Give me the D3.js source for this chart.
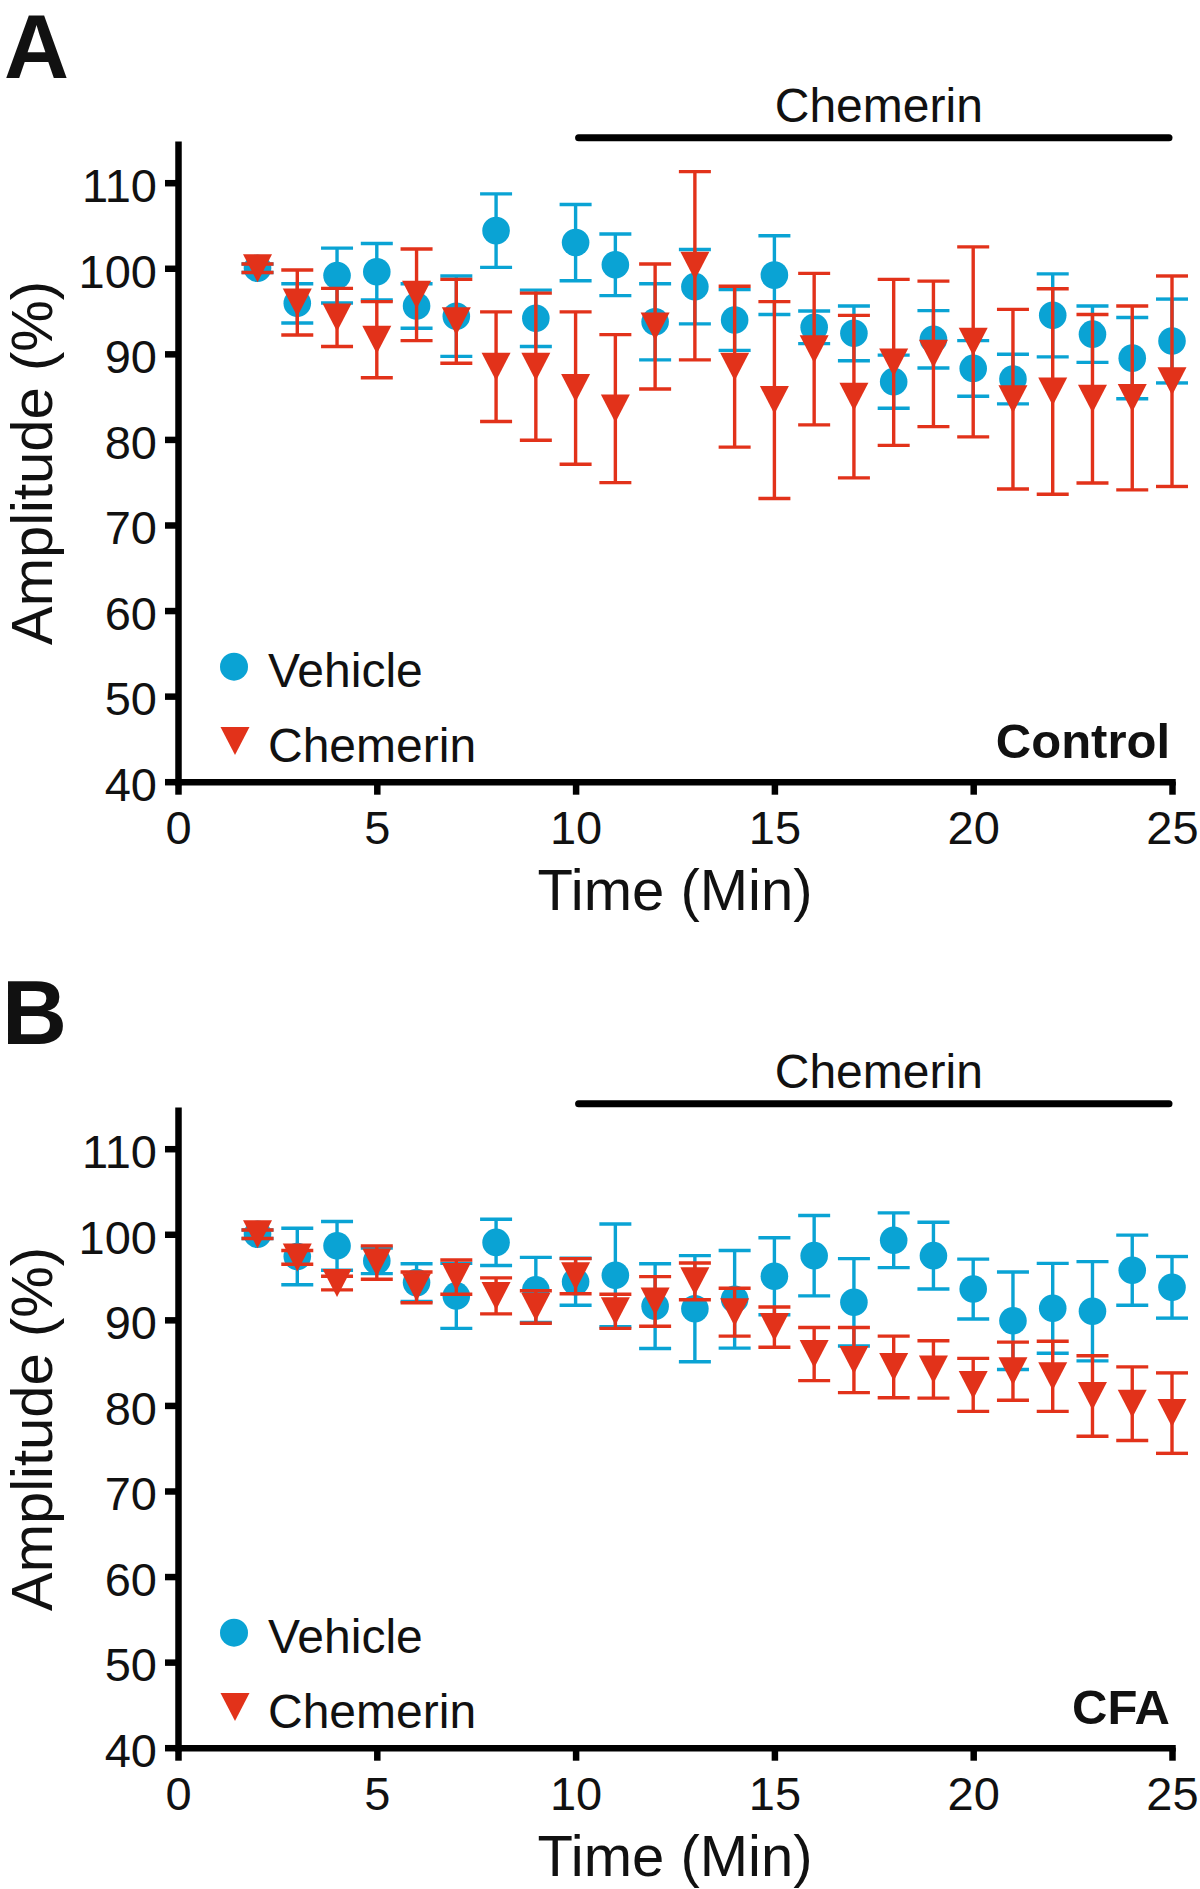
<!DOCTYPE html>
<html><head><meta charset="utf-8">
<script src="https://cdn.jsdelivr.net/npm/d3@7"></script>
<style>
body{margin:0;background:#fff}
svg{display:block}
text{font-family:"Liberation Sans",Arial,Helvetica,sans-serif;fill:#111}
</style>
</head><body>
<svg id="c" width="1200" height="1889"></svg>
<script>
// ---- data ----
const times = [2,3,4,5,6,7,8,9,10,11,12,13,14,15,16,17,18,19,20,21,22,23,24,25];

const vehicleA    = [100.0,95.9,99.15,99.6,95.6,94.4,104.4,94.15,103.0,100.4,93.75,97.85,93.95,99.2,93.1,92.4,86.75,91.7,88.3,87.05,94.5,92.3,89.5,91.5];
const vehicleAErr = [0.5,2.3,3.2,3.3,2.6,4.7,4.3,3.3,4.45,3.6,4.45,4.35,3.55,4.6,1.9,3.2,3.1,3.35,3.25,2.9,4.85,3.3,4.75,4.9];
const chemerinA    = [100.0,96.0,94.25,91.65,96.9,93.8,88.5,88.5,86.0,83.6,93.2,100.3,88.5,84.6,90.55,85.0,89.0,90.0,91.4,84.7,85.6,84.75,84.85,86.8];
const chemerinAErr = [0.5,3.8,3.4,4.45,5.35,4.9,6.4,8.6,8.9,8.65,7.3,11.0,9.4,11.5,8.85,9.5,9.7,8.5,11.1,10.5,12.0,9.85,10.75,12.3];

const vehicleB    = [100.0,97.4,98.65,96.9,94.35,92.8,99.05,93.5,94.45,95.2,91.6,91.3,92.4,95.1,97.5,92.05,99.3,97.5,93.6,89.9,91.35,91.0,95.8,93.8];
const vehicleBErr = [0.5,3.3,2.85,1.5,2.2,3.8,2.7,3.8,2.75,6.0,4.95,6.2,5.7,4.5,4.7,5.1,3.2,3.9,3.5,5.7,5.25,5.8,4.1,3.6];
const chemerinB    = [100.0,97.3,94.3,96.7,93.8,95.0,92.8,91.5,95.1,91.0,92.15,94.5,90.9,89.15,86.0,85.3,84.5,84.2,82.4,84.0,83.4,81.1,80.2,79.1];
const chemerinBErr = [0.5,0.8,0.8,1.95,1.8,2.0,2.1,1.9,2.05,2.0,2.9,2.15,2.8,2.35,3.1,3.8,3.6,3.35,3.1,3.4,4.1,4.7,4.3,4.7];

const yTicks = [40,50,60,70,80,90,100,110];
const xTicks = [0,5,10,15,20,25];
const treatStart = 10, treatEnd = 25;
const seriesNames = ["Vehicle","Chemerin"];

const BLUE = "#0aa3d4", RED = "#e2321a";

const svg = d3.select("#c");

function triPath(cx, cy, w, h){
  return `M${cx-w/2},${cy-h/2}L${cx+w/2},${cy-h/2}L${cx},${cy+h/2}Z`;
}

function panel(top, letter, letterX, tag, veh, vehErr, chem, chemErr){
  const g = svg.append("g").attr("transform", `translate(0,${top})`);
  const x = d3.scaleLinear().domain([0,25]).range([178,1172]);
  const y = d3.scaleLinear().domain([40,114.5]).range([781.7,144.2]);

  // panel letter
  g.append("text").attr("x",letterX).attr("y",78).attr("font-size",90).attr("font-weight","bold").text(letter);

  // treatment bar
  g.append("line").attr("x1",x(treatStart)+3).attr("x2",x(treatEnd)-3)
    .attr("y1",137.7).attr("y2",137.7)
    .attr("stroke","#000").attr("stroke-width",7).attr("stroke-linecap","round");
  g.append("text").attr("x",(x(treatStart)+x(treatEnd))/2+5).attr("y",122)
    .attr("text-anchor","middle").attr("font-size",48).text("Chemerin");

  // axes
  const ya = g.append("g").attr("transform",`translate(${x(0)},0)`)
    .call(d3.axisLeft(y).tickValues(yTicks).tickSize(13).tickSizeOuter(0).tickPadding(8));
  const xa = g.append("g").attr("transform",`translate(0,${y(40)})`)
    .call(d3.axisBottom(x).tickValues(xTicks).tickSize(13).tickSizeOuter(0));
  [ya,xa].forEach(a=>{
    a.select(".domain").attr("stroke","#000").attr("stroke-width",6.5).attr("stroke-linecap","square");
    a.selectAll(".tick line").attr("stroke","#000").attr("stroke-width",6.5);
    a.selectAll(".tick text").attr("font-size",47).attr("fill","#111")
      .style("font-family","'Liberation Sans',Arial,sans-serif");
  });
  ya.selectAll(".tick text").attr("dy","0.4em");
  xa.selectAll(".tick text").attr("y",29).attr("dy","0.71em");

  // axis titles
  g.append("text").attr("x",(x(0)+x(25))/2).attr("y",910).attr("text-anchor","middle")
    .attr("font-size",58).text("Time (Min)");
  g.append("text").attr("transform",`translate(52,${(y(40)+y(114.5))/2}) rotate(-90)`)
    .attr("text-anchor","middle").attr("font-size",58).text("Amplitude (%)");

  // series
  function errbars(vals, errs, color){
    const eg = g.append("g").attr("stroke",color).attr("stroke-width",3.4);
    times.forEach((t,i)=>{
      const cx = x(t), y1 = y(vals[i]-errs[i]), y2 = y(vals[i]+errs[i]);
      eg.append("line").attr("x1",cx).attr("x2",cx).attr("y1",y1).attr("y2",y2);
      eg.append("line").attr("x1",cx-16).attr("x2",cx+16).attr("y1",y1).attr("y2",y1);
      eg.append("line").attr("x1",cx-16).attr("x2",cx+16).attr("y1",y2).attr("y2",y2);
    });
  }
  errbars(veh, vehErr, BLUE);
  g.append("g").selectAll("circle").data(times).join("circle")
    .attr("cx",d=>x(d)).attr("cy",(d,i)=>y(veh[i])).attr("r",13.8).attr("fill",BLUE);
  errbars(chem, chemErr, RED);
  g.append("g").selectAll("path").data(times).join("path")
    .attr("d",(d,i)=>triPath(x(d), y(chem[i]), 29, 28)).attr("fill",RED);

  // legend
  g.append("circle").attr("cx",234).attr("cy",666.7).attr("r",14).attr("fill",BLUE);
  g.append("text").attr("x",268).attr("y",686.7).attr("font-size",48).text(seriesNames[0]);
  g.append("path").attr("d",triPath(235,741,29,28)).attr("fill",RED);
  g.append("text").attr("x",268).attr("y",761.7).attr("font-size",48).text(seriesNames[1]);

  // condition tag
  g.append("text").attr("x",1170).attr("y",758).attr("text-anchor","end")
    .attr("font-size",49).attr("font-weight","bold").text(tag);
}

panel(0, "A", 4, "Control", vehicleA, vehicleAErr, chemerinA, chemerinAErr);
panel(966, "B", 2, "CFA", vehicleB, vehicleBErr, chemerinB, chemerinBErr);
</script>
</body></html>
